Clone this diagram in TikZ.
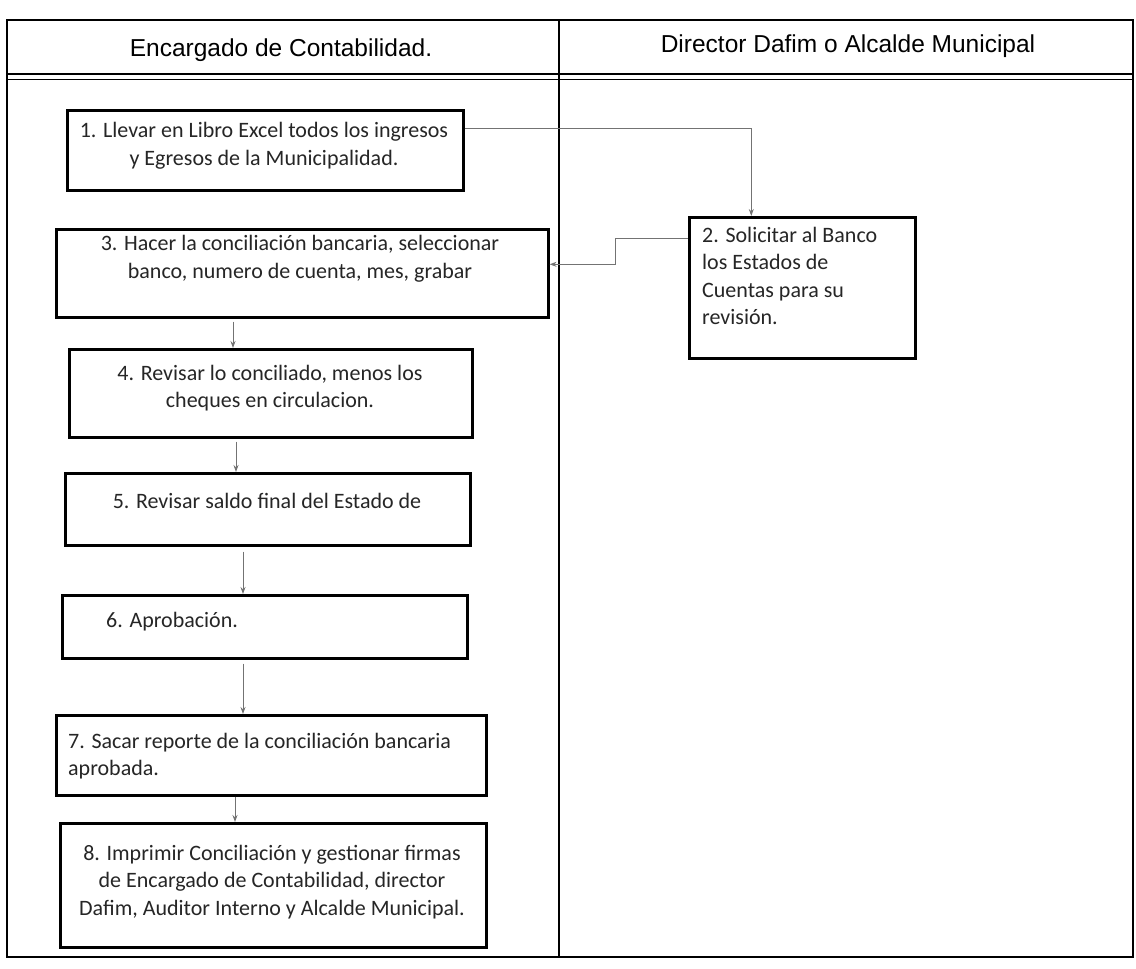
\documentclass[tikz,border=0pt]{standalone}
\usepackage{fontspec}
\setmainfont{Carlito}
\newfontfamily\headfont{Liberation Sans}
\usetikzlibrary{arrows.meta}

\tikzset{
  frame/.style={line width=2.2pt, black},
  lanediv/.style={line width=1.3pt, black},
  stepbox/.style={draw=black, line width=2.6pt, rectangle, inner sep=0pt, anchor=north west, fill=white},
  steptext/.style={inner sep=0pt, font=\fontsize{22}{27.5}\selectfont, text=black!85},
  lanetitle/.style={inner sep=0pt, font=\headfont\fontsize{24.5}{28}\selectfont},
  flow/.style={draw=black!55, line width=0.9pt, -{Stealth[length=7pt,width=5pt]}},
}

\begin{document}
\begin{tikzpicture}[x=1pt, y=-1pt]
\useasboundingbox (0,0) rectangle (1136,969);

% swimlane frame
\coordinate (tl) at (7,20);
\coordinate (br) at (1133,957);
\draw[frame] (tl) rectangle (br);
\draw[line width=2pt] (7,74) -- (1133,74);
\draw[line width=0.9pt] (7,79) -- (1133,79);
\draw[lanediv] (559,20) -- (559,957);

% lane titles
\node[lanetitle] (lane1) at (281,50) {Encargado de Contabilidad.};
\node[lanetitle] (lane2) at (848,46) {Director Dafim o Alcalde Municipal};

% process boxes
\node[stepbox, minimum width=396pt, minimum height=80pt]  (b1) at (66,109) {};
\node[stepbox, minimum width=226pt, minimum height=141pt] (b2) at (688,216) {};
\node[stepbox, minimum width=492pt, minimum height=88pt]  (b3) at (55,228) {};
\node[stepbox, minimum width=403pt, minimum height=88pt]  (b4) at (68,348) {};
\node[stepbox, minimum width=405pt, minimum height=72pt]  (b5) at (64,472) {};
\node[stepbox, minimum width=405pt, minimum height=63pt]  (b6) at (61,594) {};
\node[stepbox, minimum width=430pt, minimum height=80pt]  (b7) at (55,714) {};
\node[stepbox, minimum width=426pt, minimum height=124pt] (b8) at (59,822) {};

% box texts
\node[steptext, align=center] (t1) at (264,146) {1. Llevar en Libro Excel todos los ingresos\\y Egresos de la Municipalidad.};
\node[steptext, align=left, anchor=west] (t2) at (702,276) {2. Solicitar al Banco\\los Estados de\\Cuentas para su\\revisión.};
\node[steptext, align=center] (t3) at (300,259) {3. Hacer la conciliación bancaria, seleccionar\\banco, numero de cuenta, mes, grabar};
\node[steptext, align=center] (t4) at (270,388) {4. Revisar lo conciliado, menos los\\cheques en circulacion.};
\node[steptext, align=center] (t5) at (267,501) {5. Revisar saldo final del Estado de};
\node[steptext, anchor=west] (t6) at (106,622) {6. Aprobación.};
\node[steptext, align=left, anchor=west] (t7) at (68,756) {7. Sacar reporte de la conciliación bancaria\\aprobada.};
\node[steptext, align=center] (t8) at (272,882) {8. Imprimir Conciliación y gestionar firmas\\de Encargado de Contabilidad, director\\Dafim, Auditor Interno y Alcalde Municipal.};

% connectors
\draw[flow] ([yshift=22pt]b1.east) -| ([xshift=-51pt]b2.north);
\draw[flow] ([yshift=49pt]b2.west) -- ++(-73pt,0) |- ([yshift=9pt]b3.east);
\draw[flow] (b3.south -| 233,0) ++(0,3) -- (b4.north -| 233,0);
\draw[flow] (b4.south -| 236,0) ++(0,3) -- (b5.north -| 236,0);
\draw[flow] (b5.south -| 243,0) ++(0,5) -- (b6.north -| 243,0);
\draw[flow] (b6.south -| 243,0) ++(0,4) -- (b7.north -| 243,0);
\draw[flow] (b7.south -| 235,0) -- (b8.north -| 235,0);
\end{tikzpicture}
\end{document}
